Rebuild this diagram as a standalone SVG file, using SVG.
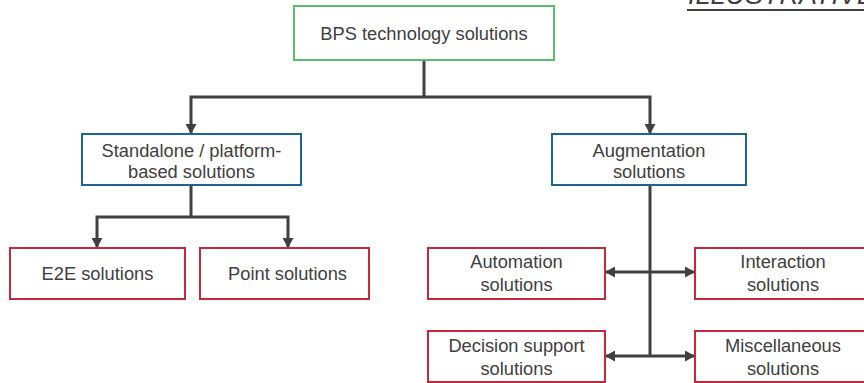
<svg xmlns="http://www.w3.org/2000/svg" width="864" height="383" viewBox="0 0 864 383">
  <style>
    .box { fill: #ffffff; stroke-width: 2; }
    .root { stroke: #5dbd6e; }
    .mid { stroke: #1d6491; }
    .leaf { stroke: #c52a3c; }
    .lbl { font-family: "Liberation Sans", Arial, sans-serif; font-size: 18.3px; fill: #404040; text-anchor: middle; }
    .wire { fill: none; stroke: #404040; stroke-width: 3; }
  </style>
  <defs>
    <marker id="arrow" markerUnits="userSpaceOnUse" markerWidth="11" markerHeight="11" refX="10" refY="5.5" orient="auto">
      <path d="M0,0 L10,5.5 L0,11 z" fill="#404040"/>
    </marker>
  </defs>
  <rect width="864" height="383" fill="#ffffff"/>

  <!-- corner tag, running off the top edge -->
  <g id="tag">
    <text x="688" y="3.5" font-family="Liberation Sans, Arial, sans-serif" font-size="27" font-style="italic" fill="#404040">ILLUSTRATIVE</text>
    <line x1="687" y1="10" x2="864" y2="10" stroke="#404040" stroke-width="2"/>
  </g>

  <g id="connectors">
    <path class="wire" d="M424,60 V97"/>
    <path class="wire" d="M424,97 H191 V134" marker-end="url(#arrow)"/>
    <path class="wire" d="M424,97 H650 V134" marker-end="url(#arrow)"/>
    <path class="wire" d="M191,185 V217"/>
    <path class="wire" d="M191,217 H97 V248" marker-end="url(#arrow)"/>
    <path class="wire" d="M191,217 H288 V248" marker-end="url(#arrow)"/>
    <path class="wire" d="M650,185 V356"/>
    <path class="wire" d="M650,272 H605" marker-end="url(#arrow)"/>
    <path class="wire" d="M650,272 H695" marker-end="url(#arrow)"/>
    <path class="wire" d="M650,356 H605" marker-end="url(#arrow)"/>
    <path class="wire" d="M650,356 H695" marker-end="url(#arrow)"/>
  </g>

  <g id="bps">
    <rect class="box root" x="294" y="6" width="260" height="54"/>
    <text class="lbl" x="424" y="40">BPS technology solutions</text>
  </g>

  <g id="standalone">
    <rect class="box mid" x="82" y="134" width="219" height="51"/>
    <text class="lbl" x="191.5" y="157">Standalone / platform-</text>
    <text class="lbl" x="191.5" y="178">based solutions</text>
  </g>

  <g id="augmentation">
    <rect class="box mid" x="552" y="134" width="194" height="51"/>
    <text class="lbl" x="649" y="157">Augmentation</text>
    <text class="lbl" x="649" y="178">solutions</text>
  </g>

  <g id="e2e">
    <rect class="box leaf" x="10" y="248" width="175" height="51"/>
    <text class="lbl" x="97.5" y="280">E2E solutions</text>
  </g>

  <g id="point">
    <rect class="box leaf" x="200" y="248" width="169" height="51"/>
    <text class="lbl" x="287.5" y="280">Point solutions</text>
  </g>

  <g id="automation">
    <rect class="box leaf" x="428" y="248" width="177" height="51"/>
    <text class="lbl" x="516.5" y="268">Automation</text>
    <text class="lbl" x="516.5" y="291">solutions</text>
  </g>

  <g id="interaction">
    <rect class="box leaf" x="695" y="248" width="176" height="51"/>
    <text class="lbl" x="783" y="268">Interaction</text>
    <text class="lbl" x="783" y="291">solutions</text>
  </g>

  <g id="decision">
    <rect class="box leaf" x="428" y="331" width="177" height="51"/>
    <text class="lbl" x="516.5" y="352">Decision support</text>
    <text class="lbl" x="516.5" y="375">solutions</text>
  </g>

  <g id="misc">
    <rect class="box leaf" x="695" y="331" width="176" height="51"/>
    <text class="lbl" x="783" y="352">Miscellaneous</text>
    <text class="lbl" x="783" y="375">solutions</text>
  </g>
</svg>
